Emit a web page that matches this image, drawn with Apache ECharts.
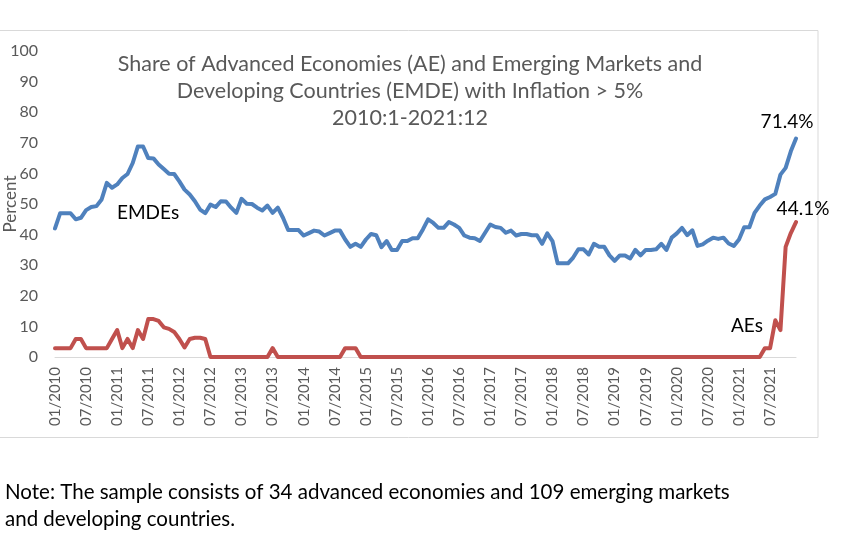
<!DOCTYPE html>
<html>
<head>
<meta charset="utf-8">
<script src="https://cdn.jsdelivr.net/npm/echarts@6/dist/echarts.min.js"></script>
<style>
html,body{margin:0;padding:0;background:#fff;}
#chart{width:850px;height:533px;}
</style>
</head>
<body>
<div id="chart"></div>
<script>
// Monthly categories 2010:1 - 2021:12
const years = [2010,2011,2012,2013,2014,2015,2016,2017,2018,2019,2020,2021];
const months = ['01','02','03','04','05','06','07','08','09','10','11','12'];
const categories = [];
years.forEach(y => months.forEach(m => categories.push(m + '/' + y)));

// Share of EMDEs with inflation > 5% (percent)
const emdeShare = [
  42,47,47,47,45,45.5,48,49,49.3,51.5,56.9,55.3,
  56.4,58.5,59.8,63.4,68.8,68.8,65,64.9,62.9,61.4,59.9,59.8,
  57.4,54.7,53.1,50.9,48.2,47,49.8,49,50.9,50.8,48.8,47.1,
  51.7,50.1,50,48.8,47.9,49.5,47.1,48.8,45.5,41.5,41.5,41.5,
  39.7,40.5,41.3,41,39.7,40.5,41.3,41.3,38.4,36,37,36,
  38.4,40.2,39.8,35.9,37.9,35,35,37.9,37.9,38.8,38.8,41.7,
  45,43.8,42.2,42.2,44.1,43.3,42.2,39.7,39,38.8,37.9,40.6,
  43.3,42.5,42.2,40.6,41.3,39.7,40.2,40.2,39.8,39.8,37,40.4,
  37.9,30.6,30.6,30.6,32.5,35.2,35.2,33.5,37,36,36,33.2,
  31.4,33.2,33.2,32.2,35,33.2,35,35,35.2,37,35,39,
  40.4,42.2,39.8,41.4,36.3,36.8,38,39,38.6,39,37.1,36.3,
  38.4,42.4,42.4,47.1,49.5,51.5,52.3,53.3,59.6,61.8,67.2,71.4
];

// Share of AEs with inflation > 5% (percent)
const aeShare = [
  2.9,2.9,2.9,2.9,5.9,5.9,2.9,2.9,2.9,2.9,2.9,5.9,
  8.8,2.9,5.9,2.9,8.8,5.9,12.4,12.4,11.8,9.7,9.2,8.2,
  5.9,3.1,5.9,6.3,6.3,5.9,0,0,0,0,0,0,
  0,0,0,0,0,0,2.9,0,0,0,0,0,
  0,0,0,0,0,0,0,0,2.9,2.9,2.9,0,
  0,0,0,0,0,0,0,0,0,0,0,0,
  0,0,0,0,0,0,0,0,0,0,0,0,
  0,0,0,0,0,0,0,0,0,0,0,0,
  0,0,0,0,0,0,0,0,0,0,0,0,
  0,0,0,0,0,0,0,0,0,0,0,0,
  0,0,0,0,0,0,0,0,0,0,0,0,
  0,0,0,0,0,2.9,2.9,12,8.8,36,40.5,44.1
];

const titleLines = [
  'Share of Advanced Economies (AE) and Emerging Markets and',
  'Developing Countries (EMDE) with Inflation > 5%',
  '2010:1-2021:12'
];
const noteLines = [
  'Note: The sample consists of 34 advanced economies and 109 emerging markets',
  'and developing countries.'
];
const yTicks = {min: 0, max: 100, interval: 10};

const FONT = 'Lato, "Open Sans", sans-serif';

const chart = echarts.init(document.getElementById('chart'), null, {renderer: 'canvas'});
const baseGraphic = [
  {id: 'frame', type: 'rect', silent: true, z: -1,
   shape: {x: -1, y: 30.5, width: 819, height: 407},
   style: {fill: 'none', stroke: '#d9d9d9', lineWidth: 1}},
  {id: 'title', type: 'text', x: 410, y: 51, z: 10,
   style: {text: titleLines.join('\n'), textAlign: 'center', textVerticalAlign: 'top',
           fill: '#595959', font: '21.5px ' + FONT, lineHeight: 27}},
  {id: 'emdeName', type: 'text', x: 117, y: 213, z: 10,
   style: {text: 'EMDEs', textAlign: 'left', textVerticalAlign: 'middle',
           fill: '#000', font: '19px ' + FONT}},
  {id: 'aeName', type: 'text', x: 731, y: 326, z: 10,
   style: {text: 'AEs', textAlign: 'left', textVerticalAlign: 'middle',
           fill: '#000', font: '19px ' + FONT}},
  {id: 'note', type: 'text', x: 5, y: 479, z: 10,
   style: {text: noteLines.join('\n'), textAlign: 'left', textVerticalAlign: 'top',
           fill: '#000', font: '20.5px ' + FONT, lineHeight: 27}}
];

chart.setOption({
  animation: false,
  backgroundColor: '#fff',
  grid: {left: 55, right: 54, top: 51, bottom: 176, containLabel: false, outerBoundsMode: 'none'},
  xAxis: {
    type: 'category',
    data: categories,
    boundaryGap: false,
    axisLine: {lineStyle: {color: '#d9d9d9', width: 1}},
    axisTick: {show: false},
    axisLabel: {
      interval: 5, rotate: 90, margin: 10,
      color: '#595959', fontSize: 15, fontFamily: FONT
    },
    splitLine: {show: false}
  },
  yAxis: {
    type: 'value',
    min: yTicks.min, max: yTicks.max, interval: yTicks.interval,
    name: 'Percent', nameLocation: 'middle', nameGap: 36, nameMoveOverlap: false,
    nameTextStyle: {color: '#595959', fontSize: 17, fontFamily: FONT},
    axisLine: {show: false},
    axisTick: {show: false},
    axisLabel: {color: '#595959', fontSize: 16, fontFamily: FONT, margin: 17},
    splitLine: {show: false}
  },
  series: [
    {
      name: 'EMDEs', type: 'line', data: emdeShare,
      showSymbol: false, symbol: 'none', smooth: false,
      lineStyle: {color: '#4f81bd', width: 4, join: 'round', cap: 'round'},
      itemStyle: {color: '#4f81bd'}, z: 3
    },
    {
      name: 'AEs', type: 'line', data: aeShare,
      showSymbol: false, symbol: 'none', smooth: false,
      lineStyle: {color: '#c0504d', width: 4, join: 'round', cap: 'round'},
      itemStyle: {color: '#c0504d'}, z: 2
    }
  ],
  graphic: baseGraphic
});

// End-value labels positioned through the chart's own scales
const last = categories.length - 1;
const pE = chart.convertToPixel({seriesIndex: 0}, [last, emdeShare[last]]);
const pA = chart.convertToPixel({seriesIndex: 1}, [last, aeShare[last]]);
chart.setOption({
  graphic: baseGraphic.concat([
    {id: 'emdeEnd', type: 'text', x: pE[0] - 9, y: pE[1] - 17, z: 10,
     style: {text: emdeShare[last].toFixed(1) + '%', textAlign: 'center', textVerticalAlign: 'middle',
             fill: '#000', font: '19px ' + FONT}},
    {id: 'aeEnd', type: 'text', x: pA[0] + 7, y: pA[1] - 13, z: 10,
     style: {text: aeShare[last].toFixed(1) + '%', textAlign: 'center', textVerticalAlign: 'middle',
             fill: '#000', font: '19px ' + FONT}}
  ])
});
</script>
</body>
</html>
